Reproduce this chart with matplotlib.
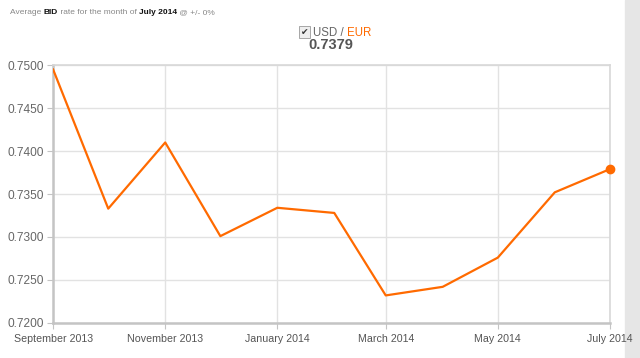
import datetime as dt
import matplotlib
matplotlib.use("Agg")
import matplotlib.pyplot as plt
import matplotlib.dates as mdates
from matplotlib.patches import Rectangle

# monthly average BID rate, USD/EUR
months = [dt.date(2013, 9, 1), dt.date(2013, 10, 1), dt.date(2013, 11, 1),
          dt.date(2013, 12, 1), dt.date(2014, 1, 1), dt.date(2014, 2, 1),
          dt.date(2014, 3, 1), dt.date(2014, 4, 1), dt.date(2014, 5, 1),
          dt.date(2014, 6, 1), dt.date(2014, 7, 1)]
rates = [0.7495, 0.7333, 0.7410, 0.7301, 0.7334, 0.7328,
         0.7232, 0.7242, 0.7276, 0.7352, 0.7379]
ytick_vals = [0.7200, 0.7250, 0.7300, 0.7350, 0.7400, 0.7450, 0.7500]

orange = "#ff6a00"
plt.rcParams['font.family'] = ['Liberation Sans', 'DejaVu Sans']

fig = plt.figure(figsize=(6.4, 3.58), dpi=100)

# scrollbar strip on the right (behind everything)
fig.patches.append(Rectangle((625 / 640, 0), 15 / 640, 1, transform=fig.transFigure,
                             color="#e6e6e6", zorder=-5))

ax = fig.add_axes([0.083, 0.098, 0.870, 0.720])
ax.patch.set_alpha(0)

ax.plot(months, rates, color=orange, lw=1.6, zorder=3)
ax.plot(months[-1:], rates[-1:], 'o', color=orange, ms=6, zorder=4, clip_on=False)

ax.set_ylim(0.7200, 0.7500)
ax.set_yticks(ytick_vals)
ax.set_yticklabels(["%.4f" % v for v in ytick_vals])
ax.set_xlim(months[0], months[-1])
ax.xaxis.set_major_locator(mdates.MonthLocator(bymonth=[1, 3, 5, 7, 9, 11]))
ax.xaxis.set_major_formatter(mdates.DateFormatter("%B %Y"))

ax.grid(True, color="#e2e2e2", lw=1)
ax.set_axisbelow(True)
for side in ['top', 'right']:
    ax.spines[side].set_color("#d8d8d8")
    ax.spines[side].set_linewidth(1.2)
for side in ['left', 'bottom']:
    ax.spines[side].set_color("#c4c4c4")
    ax.spines[side].set_linewidth(1.8)
ax.tick_params(axis='y', colors="#c4c4c4", labelcolor="#666666", length=4,
               labelsize=8.6, pad=3)
ax.tick_params(axis='x', colors="#c4c4c4", labelcolor="#555555", length=4,
               labelsize=7.7, pad=4)

# header line with bold parts
renderer = fig.canvas.get_renderer()
parts = [("Average ", "normal", "#888888"), ("BID", "bold", "#111111"),
         (" rate for the month of ", "normal", "#888888"),
         ("July 2014", "bold", "#111111"), (" @ +/- 0%", "normal", "#888888")]
x = 10
for txt, w, c in parts:
    t = fig.text(x / 640, 1 - 14 / 358, txt, fontsize=6.0, weight=w, color=c,
                 ha='left', va='baseline')
    x += t.get_window_extent(renderer).width

# legend checkbox + pair name + current value
fig.text(304.5 / 640, 1 - 32 / 358, "\u2714", fontsize=6.5, color="#333333",
         ha='center', va='center', family='DejaVu Sans',
         bbox=dict(boxstyle='square,pad=0.15', fc="#eeeeee", ec="#999999", lw=0.6))
t1 = fig.text(313 / 640, 1 - 33 / 358, "USD / ", fontsize=8.3, color="#666666",
              ha='left', va='center')
w1 = t1.get_window_extent(renderer).width
fig.text((313 + w1) / 640, 1 - 33 / 358, "EUR", fontsize=8.3, color=orange,
         ha='left', va='center')
fig.text(331 / 640, 1 - 45 / 358, "%.4f" % rates[-1], fontsize=10.5,
         weight='bold', color="#555555", ha='center', va='center')

fig.savefig("out.png", dpi=100)
